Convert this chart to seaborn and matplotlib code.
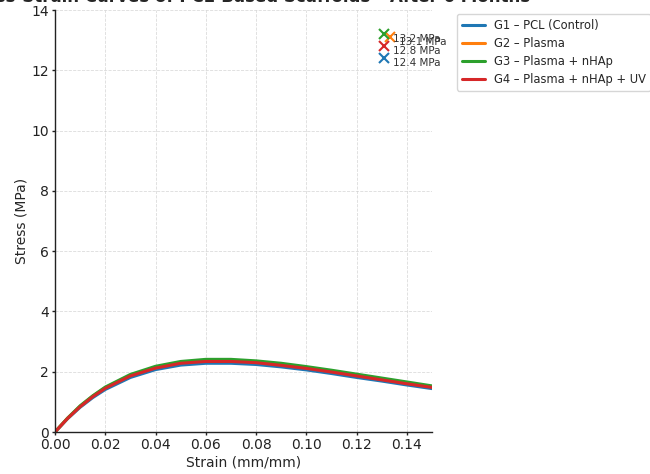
import matplotlib
matplotlib.use("Agg")
import matplotlib.pyplot as plt
import seaborn as sns
import pandas as pd

strain = [0, 0.005, 0.01, 0.015, 0.02, 0.03, 0.04, 0.05, 0.06, 0.07,
          0.08, 0.09, 0.10, 0.11, 0.12, 0.13, 0.14, 0.15]
g1 = [0, 0.44, 0.82, 1.14, 1.41, 1.81, 2.07, 2.22, 2.28, 2.28, 2.24, 2.16, 2.06, 1.94, 1.81, 1.69, 1.56, 1.44]
g2 = [0, 0.46, 0.85, 1.19, 1.47, 1.88, 2.15, 2.31, 2.37, 2.37, 2.33, 2.25, 2.14, 2.02, 1.88, 1.76, 1.62, 1.50]
g3 = [0, 0.46, 0.87, 1.20, 1.49, 1.91, 2.18, 2.34, 2.41, 2.41, 2.36, 2.28, 2.17, 2.05, 1.92, 1.79, 1.66, 1.53]
g4 = [0, 0.45, 0.84, 1.17, 1.45, 1.86, 2.12, 2.28, 2.34, 2.34, 2.30, 2.21, 2.11, 1.99, 1.86, 1.73, 1.60, 1.48]
groups = ["G1 – PCL (Control)", "G2 – Plasma", "G3 – Plasma + nHAp", "G4 – Plasma + nHAp + UV"]
uts = [12.4, 13.1, 13.2, 12.8]
uts_strain = [0.131, 0.1333, 0.131, 0.131]
colors = ["#1f77b4", "#ff7f0e", "#2ca02c", "#d62728"]

rows = []
for name, vals in zip(groups, [g1, g2, g3, g4]):
    for s, v in zip(strain, vals):
        rows.append({"Strain": s, "Stress": v, "Group": name})
df = pd.DataFrame(rows)

sns.set_style("white")
plt.rcParams['font.family'] = ['DejaVu Sans']

fig = plt.figure(figsize=(6.5, 4.74), dpi=100)
ax = fig.add_axes([55/650, 42/474, 377/650, 422/474])

sns.lineplot(data=df, x="Strain", y="Stress", hue="Group", palette=colors,
             linewidth=2.2, ax=ax, sort=False)

for xs, u, c in zip(uts_strain, uts, colors):
    ax.plot([xs], [u], marker="x", color=c, markersize=7, markeredgewidth=1.5, linestyle="none")
    ax.text(xs + 0.0035, u, f"{u} MPa", fontsize=7.5, color="#333333", ha="left", va="top")

ax.set_xlim(0, 0.15)
ax.set_ylim(0, 14)
ax.set_xticks([0, 0.02, 0.04, 0.06, 0.08, 0.10, 0.12, 0.14])
ax.set_yticks(range(0, 15, 2))
ax.tick_params(axis="both", labelsize=10, length=2.5, width=1, pad=2, direction="out",
               left=True, bottom=True, colors="#222222")
ax.grid(True, linestyle="--", color="#cccccc", linewidth=0.6, alpha=0.7)
for side in ["top", "right"]:
    ax.spines[side].set_visible(False)
for side in ["left", "bottom"]:
    ax.spines[side].set_color("#222222")
    ax.spines[side].set_linewidth(1.0)
ax.set_xlabel("Strain (mm/mm)", fontsize=10, labelpad=2)
ax.set_ylabel("Stress (MPa)", fontsize=10, labelpad=2)
ax.set_title("Stress-Strain Curves of PCL-Based Scaffolds – After 6 Months",
             fontsize=12, fontweight="bold")

h, l = ax.get_legend_handles_labels()
ax.legend(h[:4], l[:4], loc="upper left", bbox_to_anchor=(457/650, 460/474),
          bbox_transform=fig.transFigure, borderaxespad=0, fontsize=8.3, frameon=True,
          labelspacing=0.45)

fig.savefig("out.png", dpi=100)
